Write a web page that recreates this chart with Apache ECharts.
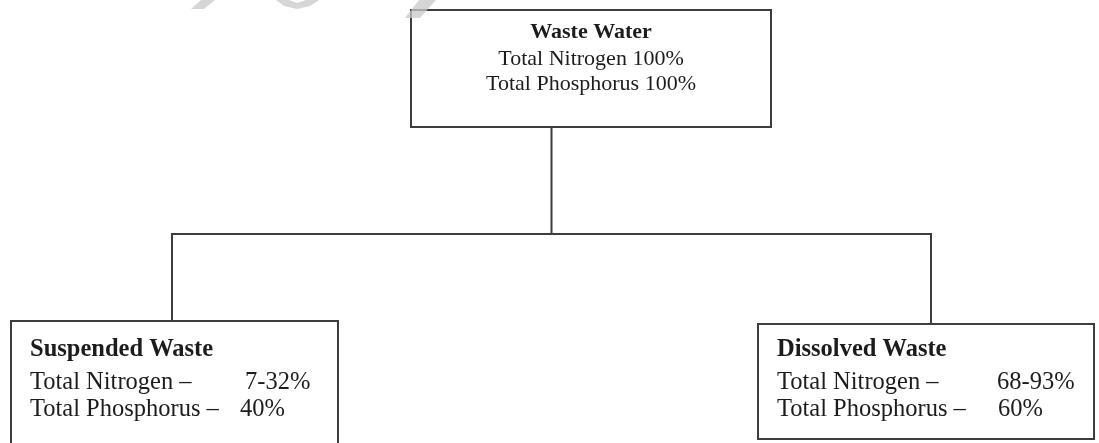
<!DOCTYPE html>
<html><head><meta charset="utf-8">
<script src="https://cdn.jsdelivr.net/npm/echarts@6/dist/echarts.min.js"></script>
<style>html,body{margin:0;padding:0;background:#fff}#c{width:1099px;height:443px}</style>
</head><body><div id="c"></div>
<script>
// ---- data ----
const rootTitle = 'Waste Water';
const rootLines = ['Total Nitrogen 100%', 'Total Phosphorus 100%'];
const childTitles = ['Suspended Waste', 'Dissolved Waste'];
const rowLabels = ['Total Nitrogen \u2013', 'Total Phosphorus \u2013'];
const nitrogenShares = ['7-32%', '68-93%'];
const phosphorusShares = ['40%', '60%'];

// ---- style / layout ----
const FONT = '"Liberation Serif", "Times New Roman", serif';
const INK = '#1c1c1c';
const LINE = '#3d3d3d';
const WATERMARK = 'rgba(200,200,200,0.75)';
const rootBox = { size: [358, 115], offset: [39.5, -57.5], padTop: 7 };
const childBoxes = [
  { size: [325, 125], offset: [2.5, 61.5], pad: [8.6, 18], keyW: [215, 210] },
  { size: [334, 113], offset: [-5, 58.5], pad: [5.6, 18], keyW: [220, 221] }
];

function boxLabel(w, h, padTop, padLeft, align) {
  return {
    show: true,
    position: align === 'center' ? [w / 2, 0] : [0, 0],
    align: align, verticalAlign: 'top',
    width: w - 2 * padLeft, height: h - padTop,
    padding: [padTop, padLeft, 0, padLeft],
    backgroundColor: '#fff',
    borderColor: LINE, borderWidth: 2,
    overflow: 'none'
  };
}

const rootNode = {
  name: rootTitle,
  symbolSize: rootBox.size,
  symbolOffset: rootBox.offset,
  label: Object.assign(boxLabel(rootBox.size[0], rootBox.size[1], rootBox.padTop, 0, 'center'), {
    formatter: () => '{t|' + rootTitle + '}\n' + rootLines.map(s => '{l|' + s + '}').join('\n'),
    rich: {
      t: { fontFamily: FONT, fontWeight: 'bold', fontSize: 22, lineHeight: 29, color: INK },
      l: { fontFamily: FONT, fontSize: 22, lineHeight: 25, color: INK }
    }
  }),
  children: childTitles.map((title, i) => {
    const b = childBoxes[i];
    return {
      name: title,
      symbolSize: b.size,
      symbolOffset: b.offset,
      label: Object.assign(boxLabel(b.size[0], b.size[1], b.pad[0], b.pad[1], 'left'), {
        formatter: () => '{t|' + title + '}\n{k0|' + rowLabels[0] + '}{v|' + nitrogenShares[i] + '}\n{k1|' + rowLabels[1] + '}{v|' + phosphorusShares[i] + '}',
        rich: {
          t: { fontFamily: FONT, fontWeight: 'bold', fontSize: 24.5, lineHeight: 38, color: INK },
          k0: { fontFamily: FONT, fontSize: 24.5, lineHeight: 27, width: b.keyW[0], color: INK },
          k1: { fontFamily: FONT, fontSize: 24.5, lineHeight: 27, width: b.keyW[1], color: INK },
          v: { fontFamily: FONT, fontSize: 24.5, lineHeight: 27, color: INK }
        }
      })
    };
  })
};

const chart = echarts.init(document.getElementById('c'));
chart.setOption({
  backgroundColor: '#fff',
  animation: false,
  graphic: [
    { type: 'polygon', silent: true, z: 100, shape: { points: [[201, 0], [215, 0], [204, 9], [191, 9]] }, style: { fill: WATERMARK } },
    { type: 'polygon', silent: true, z: 100, shape: { points: [[276, 0], [289, 0], [297, 3], [306, 0], [319, 0], [310, 6], [297, 9], [284, 6]] }, style: { fill: WATERMARK } },
    { type: 'polygon', silent: true, z: 100, shape: { points: [[419, 0], [436, 0], [420, 18], [405, 18]] }, style: { fill: WATERMARK } }
  ],
  series: [{
    type: 'tree',
    orient: 'TB',
    layout: 'orthogonal',
    left: -207.5, top: 126, width: 1518, height: 197,
    edgeShape: 'polyline',
    edgeForkPosition: '54.8%',
    expandAndCollapse: false,
    initialTreeDepth: -1,
    roam: false,
    silent: true,
    symbol: 'rect',
    itemStyle: { color: '#fff', borderWidth: 0 },
    lineStyle: { color: LINE, width: 2, curveness: 0 },
    emphasis: { disabled: true },
    data: [rootNode]
  }]
});
</script></body></html>
